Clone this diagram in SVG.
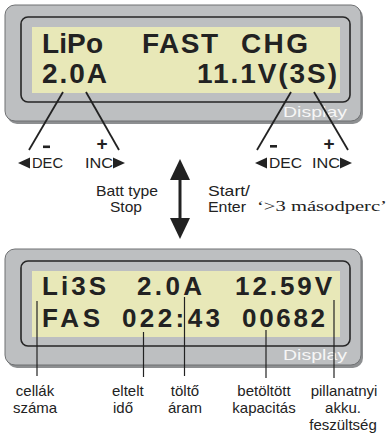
<svg xmlns="http://www.w3.org/2000/svg" width="390" height="433" viewBox="0 0 390 433">
  <style>
    .shadow { fill: #8d8f91; }
    .bezel { fill: #bdbfc1; stroke: #6f7173; stroke-width: 1; }
    .frame { fill: none; stroke: #262626; stroke-width: 1.6; }
    .screen { fill: #e8e8b8; }
    .lcd { font-family: "Liberation Sans", Arial, sans-serif; font-weight: bold; fill: #222; }
    .brand { font-family: "Liberation Sans", Arial, sans-serif; font-size: 15px; fill: #f6f6f6; }
    .lbl { font-family: "Liberation Sans", Arial, sans-serif; font-size: 15px; fill: #222; }
    .sw { font-family: "Liberation Sans", Arial, sans-serif; font-size: 14.3px; fill: #222; }
    .key { font-family: "Liberation Sans", Arial, sans-serif; font-size: 14.5px; fill: #222; }
    .sign { font-family: "Liberation Sans", Arial, sans-serif; font-size: 19px; font-weight: bold; fill: #222; }
    .serif { font-family: "Liberation Serif", "Times New Roman", serif; font-size: 15px; fill: #222; }
    .lead { stroke: #222; stroke-width: 1.8; fill: none; }
    .pin { stroke: #222; stroke-width: 1.2; fill: none; }
    .tri { fill: #222; }
  </style>

  <!-- charge setup screen -->
  <g id="display-setup">
    <rect class="shadow" x="7" y="7" width="356" height="117" rx="10"/>
    <rect class="bezel" x="5" y="5" width="356" height="116" rx="10"/>
    <rect class="frame" x="21" y="17" width="329" height="85" rx="7"/>
    <rect class="screen" x="32" y="27" width="308" height="66"/>
    <text class="lcd" font-size="28" x="42" y="53" textLength="61">LiPo</text>
    <text class="lcd" font-size="28" x="142" y="53" textLength="76">FAST</text>
    <text class="lcd" font-size="28" x="241" y="53" textLength="67">CHG</text>
    <text class="lcd" font-size="28" x="42" y="83" textLength="65">2.0A</text>
    <text class="lcd" font-size="28" x="197" y="83" textLength="140">11.1V(3S)</text>
    <text class="brand" x="283" y="117" textLength="64" lengthAdjust="spacingAndGlyphs">Display</text>
  </g>

  <!-- charging status screen -->
  <g id="display-status">
    <rect class="shadow" x="7" y="251" width="356" height="117" rx="10"/>
    <rect class="bezel" x="5" y="249" width="356" height="116" rx="10"/>
    <rect class="frame" x="21" y="261" width="329" height="85" rx="7"/>
    <rect class="screen" x="32" y="271" width="308" height="66"/>
    <text class="lcd" font-size="26" x="42" y="295" textLength="64">Li3S</text>
    <text class="lcd" font-size="26" x="137" y="295" textLength="65">2.0A</text>
    <text class="lcd" font-size="26" x="235" y="295" textLength="97">12.59V</text>
    <text class="lcd" font-size="26" x="42" y="327" textLength="58">FAS</text>
    <text class="lcd" font-size="26" x="122" y="327" textLength="98">022:43</text>
    <text class="lcd" font-size="26" x="242" y="327" textLength="83">00682</text>
    <text class="brand" x="283" y="360" textLength="64" lengthAdjust="spacingAndGlyphs">Display</text>
  </g>

  <!-- key hints -->
  <g id="keys-left">
    <rect x="43" y="145.5" width="7" height="2.6" class="tri"/>
    <text class="sign" x="102" y="150" text-anchor="middle">+</text>
    <polygon class="tri" points="18,163 30,157.5 30,168.5"/>
    <text class="key" x="32" y="168" textLength="31" lengthAdjust="spacingAndGlyphs">DEC</text>
    <text class="key" x="85" y="168" textLength="28" lengthAdjust="spacingAndGlyphs">INC</text>
    <polygon class="tri" points="125,163 113,157.5 113,168.5"/>
  </g>
  <g id="keys-right">
    <rect x="270" y="145" width="7" height="2.6" class="tri"/>
    <text class="sign" x="329" y="150" text-anchor="middle">+</text>
    <polygon class="tri" points="255,163 267,157.5 267,168.5"/>
    <text class="key" x="269" y="168" textLength="33" lengthAdjust="spacingAndGlyphs">DEC</text>
    <text class="key" x="312" y="168" textLength="28" lengthAdjust="spacingAndGlyphs">INC</text>
    <polygon class="tri" points="352,163 340,157.5 340,168.5"/>
  </g>

  <g id="switch-labels">
    <text class="sw" x="127" y="196" text-anchor="middle" textLength="62" lengthAdjust="spacingAndGlyphs">Batt type</text>
    <text class="sw" x="126" y="212" text-anchor="middle" textLength="32" lengthAdjust="spacingAndGlyphs">Stop</text>
    <text class="sw" x="208" y="196" textLength="42" lengthAdjust="spacingAndGlyphs">Start/</text>
    <text class="sw" x="208" y="212" textLength="38" lengthAdjust="spacingAndGlyphs">Enter</text>
    <text class="serif" x="257" y="211" textLength="130" lengthAdjust="spacingAndGlyphs">‘&gt;3 másodperc’</text>
  </g>

  <!-- field captions -->
  <g id="captions">
    <text class="lbl" x="35" y="396" text-anchor="middle">cellák</text>
    <text class="lbl" x="35" y="413" text-anchor="middle">száma</text>
    <text class="lbl" x="112" y="396">eltelt</text>
    <text class="lbl" x="113" y="413">idő</text>
    <text class="lbl" x="185" y="396" text-anchor="middle">töltő</text>
    <text class="lbl" x="185" y="413" text-anchor="middle">áram</text>
    <text class="lbl" x="264" y="396" text-anchor="middle">betöltött</text>
    <text class="lbl" x="264" y="413" text-anchor="middle">kapacitás</text>
    <text class="lbl" x="344" y="396" text-anchor="middle">pillanatnyi</text>
    <text class="lbl" x="343" y="413" text-anchor="middle">akku.</text>
    <text class="lbl" x="343" y="430" text-anchor="middle">feszültség</text>
  </g>

  <g id="connectors">
    <!-- key leads -->
    <line class="lead" x1="63" y1="92" x2="29" y2="150"/>
    <line class="lead" x1="86" y1="92" x2="119" y2="150"/>
    <line class="lead" x1="291" y1="92" x2="257" y2="150"/>
    <line class="lead" x1="314" y1="92" x2="348" y2="150"/>
    <!-- mode switch arrow -->
    <line x1="180" y1="176" x2="180" y2="222" stroke="#222" stroke-width="3"/>
    <polygon class="tri" points="180,159 190,180 170,180"/>
    <polygon class="tri" points="180,239 190,218 170,218"/>
    <!-- caption pointers -->
    <line class="pin" x1="37" y1="301" x2="37" y2="376"/>
    <line class="pin" x1="143.5" y1="332" x2="143.5" y2="377"/>
    <line class="pin" x1="184.5" y1="297" x2="184.5" y2="376"/>
    <line class="pin" x1="266" y1="330" x2="266" y2="378"/>
    <line class="pin" x1="334" y1="300" x2="334" y2="378"/>
  </g>
</svg>
